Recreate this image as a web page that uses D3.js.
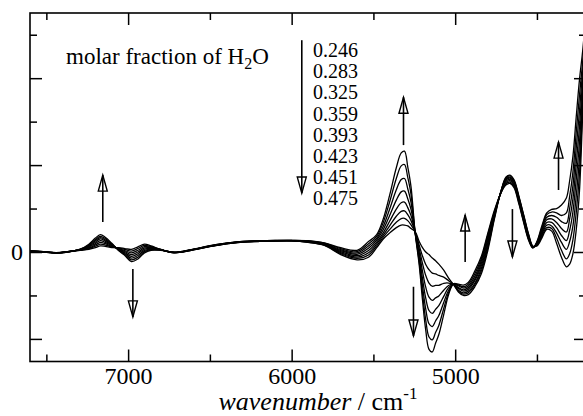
<!DOCTYPE html>
<html>
<head>
<meta charset="utf-8">
<script src="https://cdn.jsdelivr.net/npm/d3@7"></script>
<style>
    body { margin: 0; background: #fff; }
    #chart-area text { font-family: "Liberation Serif", "Times New Roman", serif; fill: #000; }
</style>
</head>
<body>
<div id="chart-area"></div>
<script>

// wavenumber grid (cm-1)
const wavenumbers = [
    7600, 7500, 7440, 7360, 7290, 7240, 7200, 7170, 7140, 7100,
    7060, 7020, 6980, 6940, 6900, 6860, 6800, 6720, 6620, 6500,
    6400, 6300, 6200, 6100, 6000, 5900, 5800, 5700, 5600, 5530,
    5480, 5440, 5400, 5360, 5330, 5310, 5290, 5270, 5245, 5220,
    5200, 5180, 5160, 5140, 5120, 5100, 5070, 5040, 5010, 4980,
    4950, 4920, 4880, 4840, 4800, 4760, 4720, 4690, 4665, 4640,
    4610, 4580, 4550, 4525, 4500, 4470, 4440, 4410, 4380, 4350,
    4320, 4300, 4280, 4260, 4240, 4220, 4200];

// molar fraction of H2O for each spectrum
const fractions = ["0.246", "0.283", "0.325", "0.359", "0.393", "0.423", "0.451", "0.475"];

// spectra (one unit = one major y tick)
const y246 = [
    .015, .002, -.008, .008, .020, .030, .050, .070, .065, .050,
    .050, .040, .030, .060, .090, .070, .030, -.009, .016, .062,
    .093, .114, .121, .126, .127, .110, .075, -.030, -.090, -.060,
    .050, .150, .220, .280, .310, .310, .300, .270, .235, .120,
    .050, .000, -.030, -.070, -.100, -.140, -.210, -.300, -.375, -.460,
    -.500, -.490, -.400, -.250, .020, .380, .700, .860, .885, .830,
    .640, .420, .200, .070, .070, .160, .260, .240, .100, -.060,
    -.170, -.140, -.020, .250, .700, 1.600, 2.400];
const y283 = [
    .013, .001, -.009, .007, .022, .039, .066, .090, .080, .057,
    .046, .029, .010, .040, .076, .063, .029, -.008, .017, .064,
    .095, .115, .122, .127, .128, .113, .079, -.019, -.074, -.034,
    .071, .171, .260, .342, .385, .387, .361, .313, .233, .077,
    -.046, -.144, -.204, -.243, -.252, -.270, -.290, -.330, -.373, -.450,
    -.485, -.470, -.380, -.220, .050, .395, .700, .850, .875, .820,
    .630, .410, .190, .065, .077, .180, .280, .270, .160, .020,
    -.080, -.020, .140, .450, .900, 1.700, 2.450];
const y325 = [
    .012, .000, -.010, .006, .024, .047, .081, .110, .095, .064,
    .041, .017, -.010, .020, .061, .056, .027, -.007, .018, .065,
    .096, .116, .123, .128, .129, .116, .084, -.007, -.059, -.009,
    .093, .194, .304, .411, .468, .472, .429, .361, .232, .039,
    -.130, -.270, -.357, -.394, -.385, -.383, -.360, -.357, -.372, -.440,
    -.470, -.450, -.360, -.190, .080, .410, .700, .840, .860, .810,
    .620, .400, .180, .060, .084, .200, .310, .300, .220, .110,
    .030, .120, .300, .640, 1.080, 1.800, 2.500];
const y359 = [
    .010, .000, -.010, .005, .026, .056, .097, .130, .110, .071,
    .037, .006, -.030, .000, .047, .049, .026, -.006, .020, .066,
    .097, .118, .124, .129, .130, .119, .088, .004, -.043, .017,
    .114, .221, .356, .494, .567, .574, .511, .419, .230, -.002,
    -.220, -.405, -.520, -.556, -.528, -.505, -.440, -.385, -.370, -.420,
    -.450, -.430, -.330, -.160, .110, .425, .690, .830, .850, .800,
    .610, .380, .170, .060, .091, .220, .340, .340, .280, .190,
    .130, .250, .460, .830, 1.260, 1.900, 2.550];
const y393 = [
    .009, -.001, -.011, .005, .029, .064, .113, .150, .125, .079,
    .033, -.006, -.050, -.020, .033, .041, .024, -.005, .021, .068,
    .099, .119, .125, .130, .131, .121, .092, .016, -.027, .043,
    .136, .256, .422, .597, .692, .701, .613, .491, .229, -.039,
    -.304, -.531, -.673, -.707, -.660, -.618, -.510, -.410, -.369, -.410,
    -.435, -.410, -.310, -.130, .140, .440, .690, .815, .835, .780,
    .600, .370, .160, .055, .099, .240, .370, .380, .340, .270,
    .230, .380, .610, 1.010, 1.440, 2.000, 2.600];
const y423 = [
    .008, -.002, -.012, .004, .031, .073, .129, .165, .140, .086,
    .029, -.017, -.070, -.040, .019, .034, .023, -.004, .022, .069,
    .100, .120, .126, .131, .132, .124, .096, .027, -.011, .069,
    .157, .295, .497, .715, .833, .846, .728, .572, .228, -.077,
    -.388, -.657, -.826, -.858, -.794, -.731, -.580, -.440, -.368, -.390,
    -.415, -.390, -.280, -.100, .170, .450, .685, .800, .820, .770,
    .580, .355, .150, .050, .106, .260, .400, .420, .400, .350,
    .330, .500, .760, 1.190, 1.620, 2.100, 2.650];
const y451 = [
    .006, -.002, -.012, .003, .033, .081, .144, .180, .155, .093,
    .024, -.029, -.090, -.060, .004, .027, .021, -.003, .024, .070,
    .101, .121, .127, .132, .133, .127, .101, .039, .004, .094,
    .179, .339, .581, .846, .991, 1.007, .858, .664, .226, -.115,
    -.472, -.783, -.978, -1.010, -.927, -.845, -.650, -.465, -.366, -.380,
    -.400, -.370, -.250, -.075, .200, .465, .680, .785, .805, .755,
    .565, .340, .140, .050, .113, .280, .430, .460, .450, .420,
    .450, .640, .920, 1.370, 1.800, 2.200, 2.700];
const y475 = [
    .005, -.003, -.013, .002, .035, .090, .160, .200, .170, .100,
    .020, -.040, -.110, -.080, -.010, .020, .020, -.002, .025, .072,
    .103, .122, .128, .133, .134, .130, .105, .050, .020, .120,
    .200, .380, .660, .970, 1.140, 1.160, .980, .750, .225, -.150,
    -.550, -.900, -1.120, -1.150, -1.050, -.950, -.720, -.490, -.365, -.370,
    -.380, -.350, -.220, -.050, .220, .480, .680, .770, .790, .740,
    .550, .330, .130, .045, .120, .300, .450, .490, .500, .540,
    .620, .820, 1.100, 1.550, 1.980, 2.320, 2.750];

const seriesValues = [y246, y283, y325, y359, y393, y423, y451, y475];

// tick values
const majorX = [7000, 6000, 5000];
const minorX = [7500, 6500, 5500, 4500];
const majorY = [-1, 0, 1, 2];
const minorY = [-0.5, 0.5, 1.5, 2.5];

// arrows showing the trend with rising water content (wavenumber, from, to)
const trendArrows = [
    {wn: 7155, from: 0.345, to: 0.885},
    {wn: 6971, from: -0.195, to: -0.747},
    {wn: 5316, from: 1.23, to: 1.78},
    {wn: 5255, from: -0.40, to: -0.966},
    {wn: 4939, from: -0.115, to: 0.425},
    {wn: 4650, from: 0.494, to: -0.057},
    {wn: 4368, from: 0.713, to: 1.264},
    {wn: 5938, from: 2.437, to: 0.678}   // legend arrow
];


class SpectraChart {

    constructor(parentElement, wn, series) {
        this.parentElement = parentElement;
        this.wn = wn;
        this.series = series;

        this.initVis();
    }

    initVis() {
        let vis = this;

        vis.margin = {top: 13, left: 30};
        vis.width = 556;
        vis.height = 348.5;

        vis.svg = d3.select("#" + vis.parentElement).append("svg")
            .attr("width", 583)
            .attr("height", 416)
            .append("g")
            .attr("transform", "translate(" + vis.margin.left + "," + vis.margin.top + ")");

        vis.x = d3.scaleLinear()
            .domain([7600, 4200])
            .range([0, vis.width]);

        vis.y = d3.scaleLinear()
            .domain([-1.26, 2.75])
            .range([vis.height, 0]);

        vis.svg.append("clipPath")
            .attr("id", "plot-clip")
            .append("rect")
            .attr("width", vis.width)
            .attr("height", vis.height);

        vis.drawAxes();
        vis.updateVis();
    }

    drawAxes() {
        let vis = this;

        // inward ticks on all four sides
        const addAxis = (axis, transform, labelSize) => {
            let g = vis.svg.append("g")
                .attr("class", "axis")
                .attr("transform", transform)
                .call(axis);
            g.select(".domain").remove();
            g.selectAll("line").attr("stroke", "#000").attr("stroke-width", 1.5);
            g.selectAll("text")
                .style("font-family", '"Liberation Serif", "Times New Roman", serif')
                .style("font-size", labelSize + "px");
        };

        addAxis(d3.axisBottom(vis.x).tickValues(majorX).tickSize(-12).tickPadding(5).tickFormat(d3.format("d")),
            "translate(0," + vis.height + ")", 24);
        addAxis(d3.axisBottom(vis.x).tickValues(minorX).tickSize(-7).tickFormat(""),
            "translate(0," + vis.height + ")", 24);
        addAxis(d3.axisTop(vis.x).tickValues(majorX).tickSize(-12).tickFormat(""), "translate(0,0)", 24);
        addAxis(d3.axisTop(vis.x).tickValues(minorX).tickSize(-7).tickFormat(""), "translate(0,0)", 24);

        addAxis(d3.axisLeft(vis.y).tickValues(majorY).tickSize(-12).tickPadding(7)
            .tickFormat(d => d === 0 ? "0" : ""), "translate(0,0)", 24);
        addAxis(d3.axisLeft(vis.y).tickValues(minorY).tickSize(-7).tickFormat(""), "translate(0,0)", 24);
        addAxis(d3.axisRight(vis.y).tickValues(majorY).tickSize(-12).tickFormat(""),
            "translate(" + vis.width + ",0)", 24);
        addAxis(d3.axisRight(vis.y).tickValues(minorY).tickSize(-7).tickFormat(""),
            "translate(" + vis.width + ",0)", 24);

        vis.svg.append("rect")
            .attr("width", vis.width)
            .attr("height", vis.height)
            .attr("fill", "none")
            .attr("stroke", "#000")
            .attr("stroke-width", 1.6);

        // x axis title
        let title = vis.svg.append("text")
            .attr("x", 288)
            .attr("y", 397)
            .attr("text-anchor", "middle")
            .style("font-size", "26px");
        title.append("tspan").style("font-style", "italic").text("wavenumber");
        title.append("tspan").text(" / cm");
        title.append("tspan").attr("dy", -11).style("font-size", "17px").text("-1");
    }

    updateVis() {
        let vis = this;

        let line = d3.line()
            .x((d, i) => vis.x(vis.wn[i]))
            .y(d => vis.y(d))
            .curve(d3.curveCatmullRom.alpha(0.5));

        vis.svg.append("g")
            .attr("clip-path", "url(#plot-clip)")
            .selectAll("path.spectrum")
            .data(vis.series)
            .enter()
            .append("path")
            .attr("class", "spectrum")
            .attr("fill", "none")
            .attr("stroke", "#000")
            .attr("stroke-width", 1.3)
            .attr("d", line);

        // arrows: shaft plus an open triangular head
        let arrows = vis.svg.selectAll("g.trend")
            .data(trendArrows)
            .enter()
            .append("g")
            .attr("class", "trend");

        arrows.append("line")
            .attr("x1", d => vis.x(d.wn))
            .attr("x2", d => vis.x(d.wn))
            .attr("y1", d => vis.y(d.from))
            .attr("y2", d => vis.y(d.to))
            .attr("stroke", "#000")
            .attr("stroke-width", 1.6);

        arrows.append("path")
            .attr("fill", "none")
            .attr("stroke", "#000")
            .attr("stroke-width", 1.4)
            .attr("d", d => {
                let cx = vis.x(d.wn), tip = vis.y(d.to);
                let dir = d.to > d.from ? 1 : -1;     // 1 = pointing up
                let base = tip + dir * 16;
                return "M" + (cx - 4.5) + "," + base + "L" + cx + "," + tip + "L" + (cx + 4.5) + "," + base + "Z";
            });

        // legend text
        let legend = vis.svg.append("text")
            .attr("x", 36)
            .attr("y", 51)
            .style("font-size", "23px");
        legend.append("tspan").text("molar fraction of H");
        legend.append("tspan").attr("dy", 5).style("font-size", "16px").text("2");
        legend.append("tspan").attr("dy", -5).text("O");

        vis.svg.selectAll("text.fraction")
            .data(fractions)
            .enter()
            .append("text")
            .attr("class", "fraction")
            .attr("x", 283)
            .attr("y", (d, i) => 44 + i * 21.2)
            .style("font-size", "20px")
            .text(d => d);
    }

}

new SpectraChart("chart-area", wavenumbers, seriesValues);

</script>
</body>
</html>
